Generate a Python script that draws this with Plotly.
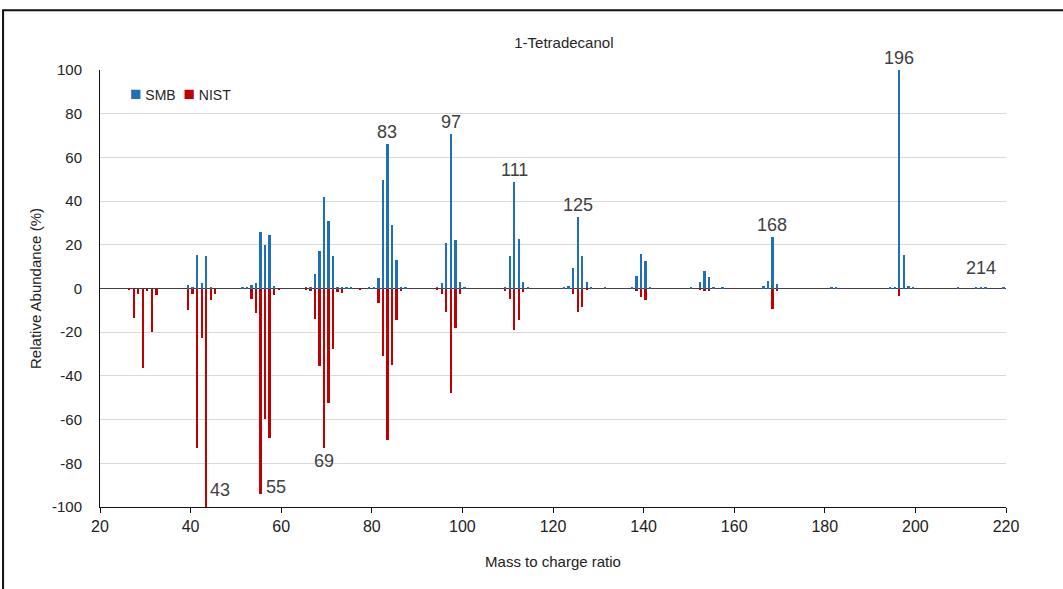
import plotly.graph_objects as go

# m/z values and relative abundances (%) for both spectra
mz = [26, 27, 28, 29, 30, 31, 32,
      39, 40, 41, 42, 43, 44, 45,
      51, 52, 53, 54, 55, 56, 57, 58, 59,
      65, 66, 67, 68, 69, 70, 71, 72, 73, 74, 75, 77,
      79, 80, 81, 82, 83, 84, 85, 86, 87,
      94, 95, 96, 97, 98, 99, 100,
      109, 110, 111, 112, 113, 114,
      122, 123, 124, 125, 126, 127, 128, 131,
      137, 138, 139, 140, 141,
      150, 152, 153, 154, 155, 157,
      166, 167, 168, 169,
      181, 182,
      194, 195, 196, 197, 198, 199,
      209, 213, 214, 215, 219]

smb = [0, 0, 0, 0, 0, 0, 0,
       1.8, 0.6, 15.4, 2.7, 14.9, 0.5, 0,
       0.4, 0.4, 1.5, 2.7, 25.7, 20.1, 24.5, 1.0, 0,
       0.4, 0.5, 6.7, 17.0, 41.7, 30.9, 14.8, 0.9, 0.9, 0.4, 0.4, 0,
       0.4, 0.5, 4.9, 49.5, 66.2, 29.0, 13.1, 0.9, 0.5,
       0.4, 2.7, 20.8, 70.7, 22.2, 3.2, 0.5,
       0.4, 14.9, 48.6, 22.6, 3.2, 0.4,
       0.4, 1.2, 9.3, 32.5, 14.9, 3.2, 0.4, 0.4,
       0.4, 5.6, 15.8, 12.7, 0.9,
       0.3, 3.1, 7.9, 5.1, 0.8, 0.3,
       1.2, 3.4, 23.7, 2.2,
       0.3, 0.3,
       0.4, 0.5, 100.0, 15.3, 1.2, 0.4,
       0.3, 0.8, 0.8, 0.5, 0.3]

nist = [-0.6, -13.5, -2.3, -36.5, -1.0, -20.1, -2.8,
        -9.7, -2.4, -73.2, -22.8, -100.0, -5.2, -2.7,
        0, 0, -4.6, -11.0, -94.2, -59.5, -68.5, -3.2, -0.6,
        -0.5, -1.2, -14.0, -35.6, -73.2, -52.4, -27.7, -1.4, -2.1, 0, 0, -0.5,
        0, 0, -6.7, -30.7, -69.3, -35.2, -14.3, -1.1, 0,
        -0.3, -2.7, -10.9, -48.0, -18.2, -2.7, 0,
        -1.2, -4.9, -19.1, -14.3, -1.8, 0,
        0, 0, -2.7, -10.9, -8.4, -0.9, 0, 0,
        0, -1.2, -4.0, -5.3, 0,
        0, -0.9, -1.2, -1.2, 0, 0,
        0, 0, -9.3, -1.2,
        0, 0,
        0, 0, -3.5, 0, 0, 0,
        0, 0, 0, 0, 0]

# Peaks whose m/z is written next to the bar, and which spectrum they sit on
peak_labels = [43, 55, 69, 83, 97, 111, 125, 168, 196, 214]
peak_series = ["NIST", "NIST", "NIST", "SMB", "SMB", "SMB", "SMB", "SMB", "SMB", "SMB"]

x_ticks = [20, 40, 60, 80, 100, 120, 140, 160, 180, 200, 220]
y_ticks = [-100, -80, -60, -40, -20, 0, 20, 40, 60, 80, 100]

BLUE = "#1f6fb8"
RED = "#c00000"
FONT = "Liberation Sans, Arial, sans-serif"

BAR_W = 0.4

fig = go.Figure()
fig.add_trace(go.Bar(x=mz, y=smb, name="SMB", marker_color=BLUE,
                     marker_line_width=0, width=BAR_W, offset=0.3,
                     showlegend=False))
fig.add_trace(go.Bar(x=mz, y=nist, name="NIST", marker_color=RED,
                     marker_line_width=0, width=BAR_W, offset=0.3,
                     showlegend=False))

# label placement per peak: (anchor x, anchor y, x shift px, y shift px)
placement = {
    43: ("left", "middle", 4, 17),
    55: ("left", "middle", 5, 7),
    69: ("center", "top", 2, -1),
    214: ("center", "bottom", 2, 7),
}
series_vals = {"SMB": smb, "NIST": nist}
annotations = []
for pk, ser in zip(peak_labels, peak_series):
    val = series_vals[ser][mz.index(pk)]
    xa, ya, xs, ys = placement.get(pk, ("center", "bottom", 2, 0))
    annotations.append(dict(x=pk, y=val, xref="x", yref="y", text=str(pk),
                            showarrow=False, xanchor=xa, yanchor=ya,
                            xshift=xs, yshift=ys,
                            font=dict(family=FONT, size=18, color="#404040")))

# legend
annotations.append(dict(
    x=0.031, y=0.947, xref="paper", yref="paper", xanchor="left", yanchor="middle",
    showarrow=False,
    text=(f"<span style='color:{BLUE};font-size:19px'>■</span> SMB&nbsp;&nbsp;"
          f"<span style='color:{RED};font-size:19px'>■</span> NIST"),
    font=dict(family=FONT, size=14, color="#262626")))

fig.update_layout(
    width=1063, height=589,
    margin=dict(l=100, r=57, t=70, b=82),
    paper_bgcolor="white", plot_bgcolor="white",
    barmode="overlay", bargap=0,
    title=dict(text="1-Tetradecanol", x=0.512, xref="paper", y=0.928, yref="container",
               xanchor="center", yanchor="middle",
               font=dict(family=FONT, size=15, color="#262626")),
    annotations=annotations,
    shapes=[dict(type="rect", xref="paper", yref="paper",
                 x0=-0.107, x1=1.3, y0=-0.5, y1=1.137,
                 line=dict(color="#111111", width=2), fillcolor="rgba(0,0,0,0)",
                 layer="above")],
)

fig.update_xaxes(
    range=[20, 220], tickvals=x_ticks, ticktext=[str(t) for t in x_ticks],
    showgrid=False, zeroline=False,
    showline=True, linecolor="#111111", linewidth=1,
    ticks="outside", ticklen=5, tickcolor="#111111",
    tickfont=dict(family=FONT, size=16, color="#222222"),
    title=dict(text="Mass to charge ratio", standoff=22,
               font=dict(family=FONT, size=15, color="#222222")),
)
fig.update_yaxes(
    range=[-100, 100], tickvals=y_ticks, ticktext=[str(t) for t in y_ticks],
    showgrid=True, gridcolor="#d9d9d9", gridwidth=1,
    zeroline=True, zerolinecolor="#404040", zerolinewidth=1,
    showline=True, linecolor="#111111", linewidth=1,
    ticks="", ticklabelstandoff=14,
    tickfont=dict(family=FONT, size=15, color="#222222"),
    title=dict(text="Relative Abundance (%)", standoff=6,
               font=dict(family=FONT, size=15, color="#222222")),
)

fig.write_html("out.html")
